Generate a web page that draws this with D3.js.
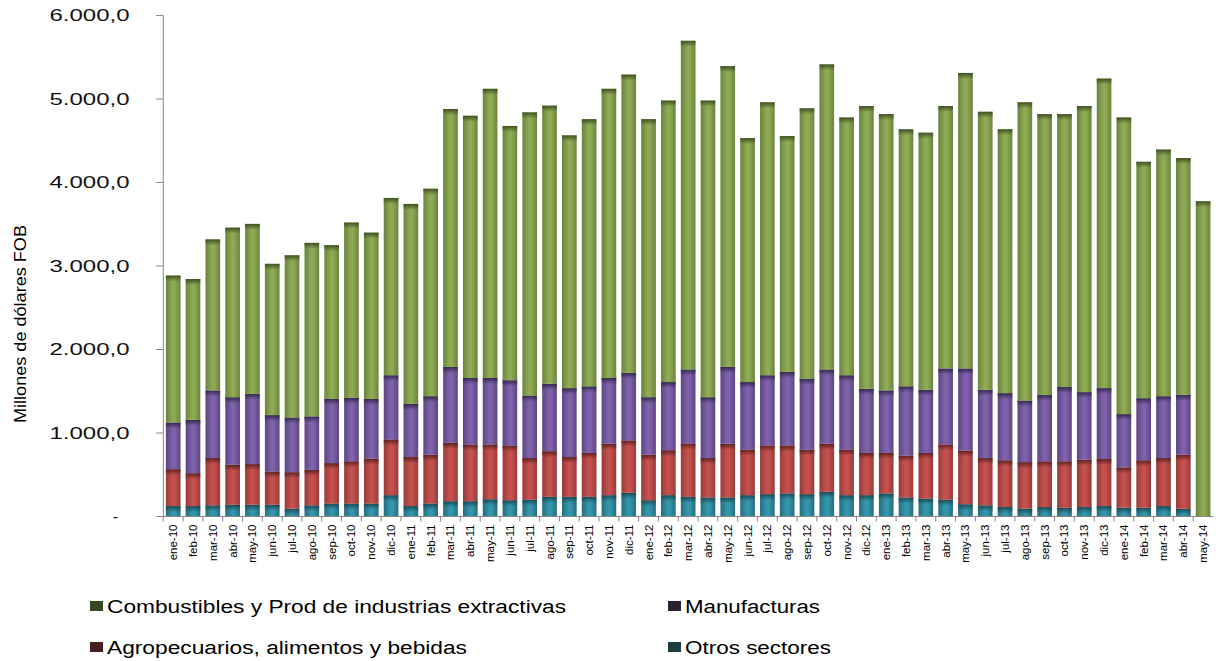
<!DOCTYPE html>
<html>
<head>
<meta charset="utf-8">
<script src="https://cdn.jsdelivr.net/npm/d3@7"></script>
<style>
  body { margin: 0; background: #fff; }
  svg text { font-family: Arial, "Liberation Sans", sans-serif; fill: #000; }
</style>
</head>
<body>
<div id="chart"></div>
<script>
// month labels (x categories)
const months = [
  "ene-10","feb-10","mar-10","abr-10","may-10","jun-10","jul-10","ago-10","sep-10","oct-10","nov-10","dic-10",
  "ene-11","feb-11","mar-11","abr-11","may-11","jun-11","jul-11","ago-11","sep-11","oct-11","nov-11","dic-11",
  "ene-12","feb-12","mar-12","abr-12","may-12","jun-12","jul-12","ago-12","sep-12","oct-12","nov-12","dic-12",
  "ene-13","feb-13","mar-13","abr-13","may-13","jun-13","jul-13","ago-13","sep-13","oct-13","nov-13","dic-13",
  "ene-14","feb-14","mar-14","abr-14","may-14"
];

// series values, millones de dolares FOB
const otros = [125,125,133,140,140,140,93,133,154,154, 154,255,125,154,182,182,206,194,202,235,
  235,235,255,283,194,255,235,227,227,255, 267,275,267,295,255,255,275,227,214,202,
  146,133,113,93,113,105,113,125,105,105, 125,93,0];
const agropecuarios = [441,393,567,479,487,398,437,425,485,506, 538,667,587,586,700,680,656,656,498,546,
  477,526,615,627,546,538,639,473,643,546, 583,575,534,575,546,506,486,501,547,660,
  643,567,559,558,547,555,567,563,482,567, 575,647,0];
const manufacturas = [559,639,809,809,842,676,655,640,769,760, 716,769,635,700,910,797,797,781,748,809,
  825,797,789,810,688,817,886,728,922,809, 841,882,849,890,890,768,748,830,756,910,
  983,817,805,737,797,890,809,849,639,744, 740,717,0];
const combustibles = [1760,1687,1809,2031,2035,1812,1943,2079,1841,2100, 1991,2124,2396,2485,3088,3140,3463,3046,3391,3330,
  3027,3200,3463,3572,3330,3371,3937,3553,3601,2922, 3269,2824,3238,3654,3087,3387,3310,3079,3079,3144,
  3540,3330,3160,3572,3362,3269,3427,3707,3552,2832, 2954,2836,3775];

const yTicks = [0, 1000, 2000, 3000, 4000, 5000, 6000];

// series in stacking order, bottom to top
const seriesKeys = ["otros", "agro", "manuf", "comb"];
const seriesNames = {
  comb: "Combustibles y Prod de industrias extractivas",
  manuf: "Manufacturas",
  agro: "Agropecuarios, alimentos y bebidas",
  otros: "Otros sectores"
};
const colors = {
  comb:  {edge: "#6a843d", mid: "#8eaa54", top: "#3d4c22", legend: "#394624"},
  manuf: {edge: "#5c4584", mid: "#7f62a9", top: "#33264b", legend: "#2a2234"},
  agro:  {edge: "#973b39", mid: "#c4514e", top: "#5a2121", legend: "#471e20"},
  otros: {edge: "#246d7e", mid: "#3596ab", top: "#1a4953", legend: "#1e3c40"}
};

const width = 1218, height = 661;
const margin = {left: 163.3, right: 5, top: 15.5, bottom: 144.5};

let table = months.map((m, i) => ({
  month: m,
  otros: otros[i],
  agro: agropecuarios[i],
  manuf: manufacturas[i],
  comb: combustibles[i]
}));

let svg = d3.select("#chart").append("svg")
  .attr("width", width)
  .attr("height", height);

// gradients for the bars
let defs = svg.append("defs");
seriesKeys.forEach(k => {
  let g = defs.append("linearGradient").attr("id", "grad-" + k)
    .attr("x1", 0).attr("x2", 1).attr("y1", 0).attr("y2", 0);
  g.append("stop").attr("offset", "0%").attr("stop-color", colors[k].edge);
  g.append("stop").attr("offset", "45%").attr("stop-color", colors[k].mid);
  g.append("stop").attr("offset", "60%").attr("stop-color", colors[k].mid);
  g.append("stop").attr("offset", "100%").attr("stop-color", colors[k].edge);

  let t = defs.append("linearGradient").attr("id", "top-" + k)
    .attr("x1", 0).attr("x2", 0).attr("y1", 0).attr("y2", 1);
  t.append("stop").attr("offset", "0%").attr("stop-color", colors[k].top).attr("stop-opacity", 0.95);
  t.append("stop").attr("offset", "100%").attr("stop-color", colors[k].top).attr("stop-opacity", 0);
});

let x = d3.scaleBand()
  .domain(months)
  .range([margin.left, 1213])
  .paddingInner(0.26)
  .paddingOuter(0.13);

let y = d3.scaleLinear()
  .domain([0, 6000])
  .range([height - margin.bottom, margin.top]);

let stack = d3.stack().keys(seriesKeys);
let layers = stack(table);

let layerG = svg.append("g").selectAll("g")
  .data(layers)
  .join("g");

layerG.selectAll("rect.seg")
  .data(d => d.map(v => ({key: d.key, v: v})))
  .join("rect")
  .attr("class", "seg")
  .attr("x", d => x(d.v.data.month))
  .attr("width", x.bandwidth())
  .attr("y", d => y(d.v[1]))
  .attr("height", d => y(d.v[0]) - y(d.v[1]))
  .attr("fill", d => "url(#grad-" + d.key + ")");

// darker band at the top of each segment
layerG.selectAll("rect.shade")
  .data(d => d.map(v => ({key: d.key, v: v})).filter(o => o.v[1] > o.v[0]))
  .join("rect")
  .attr("class", "shade")
  .attr("x", d => x(d.v.data.month))
  .attr("width", x.bandwidth())
  .attr("y", d => y(d.v[1]))
  .attr("height", d => Math.min(6, y(d.v[0]) - y(d.v[1])))
  .attr("fill", d => "url(#top-" + d.key + ")");

// y axis
const locale = d3.formatLocale({decimal: ",", thousands: ".", grouping: [3], currency: ["$", ""]});
const fmt = locale.format(",.1f");

let yAxis = svg.append("g");
yAxis.append("line")
  .attr("x1", margin.left).attr("x2", margin.left)
  .attr("y1", y(6000)).attr("y2", y(0))
  .attr("stroke", "#868686");
yAxis.selectAll("line.tick")
  .data(yTicks)
  .join("line")
  .attr("class", "tick")
  .attr("x1", margin.left - 7).attr("x2", margin.left)
  .attr("y1", d => y(d)).attr("y2", d => y(d))
  .attr("stroke", "#868686");
yAxis.selectAll("text")
  .data(yTicks)
  .join("text")
  .attr("x", d => d === 0 ? 118 : 129.5)
  .attr("y", d => y(d))
  .attr("dy", "0.36em")
  .attr("text-anchor", "end")
  .attr("font-size", 16)
  .attr("textLength", d => d === 0 ? null : 80)
  .attr("lengthAdjust", "spacingAndGlyphs")
  .style("fill", "#111")
  .text(d => d === 0 ? "-" : fmt(d));

svg.append("text")
  .attr("transform", "translate(26," + 324 + ") rotate(-90)")
  .attr("text-anchor", "middle")
  .attr("font-size", 17)
  .attr("textLength", 198)
  .attr("lengthAdjust", "spacingAndGlyphs")
  .text("Millones de dólares FOB");

// x axis
let step = x.step();
let xAxis = svg.append("g");
xAxis.append("line")
  .attr("x1", margin.left).attr("x2", 1213)
  .attr("y1", y(0)).attr("y2", y(0))
  .attr("stroke", "#868686");
xAxis.selectAll("line.tick")
  .data(months)
  .join("line")
  .attr("class", "tick")
  .attr("x1", d => x(d) - step * x.paddingInner() / 2)
  .attr("x2", d => x(d) - step * x.paddingInner() / 2)
  .attr("y1", y(0)).attr("y2", y(0) + 5)
  .attr("stroke", "#868686");
xAxis.selectAll("text")
  .data(months)
  .join("text")
  .attr("transform", d => "translate(" + (x(d) + x.bandwidth() / 2 + 4) + "," + (y(0) + 8) + ") rotate(-90)")
  .attr("text-anchor", "end")
  .attr("font-size", 11.5)
  .text(d => d);

// legend
const legendItems = [
  {key: "comb", x: 90, y: 601, w: 459},
  {key: "manuf", x: 668, y: 601, w: 135},
  {key: "agro", x: 90, y: 642, w: 360},
  {key: "otros", x: 668, y: 642, w: 146}
];
let legend = svg.append("g").attr("class", "legend");
let li = legend.selectAll("g")
  .data(legendItems)
  .join("g")
  .attr("transform", d => "translate(" + d.x + "," + d.y + ")");
li.append("rect")
  .attr("width", 13).attr("height", 10)
  .attr("fill", d => colors[d.key].legend);
li.append("text")
  .attr("x", 17)
  .attr("y", 12)
  .attr("font-size", 18)
  .attr("textLength", d => d.w)
  .attr("lengthAdjust", "spacingAndGlyphs")
  .text(d => seriesNames[d.key]);
</script>
</body>
</html>
